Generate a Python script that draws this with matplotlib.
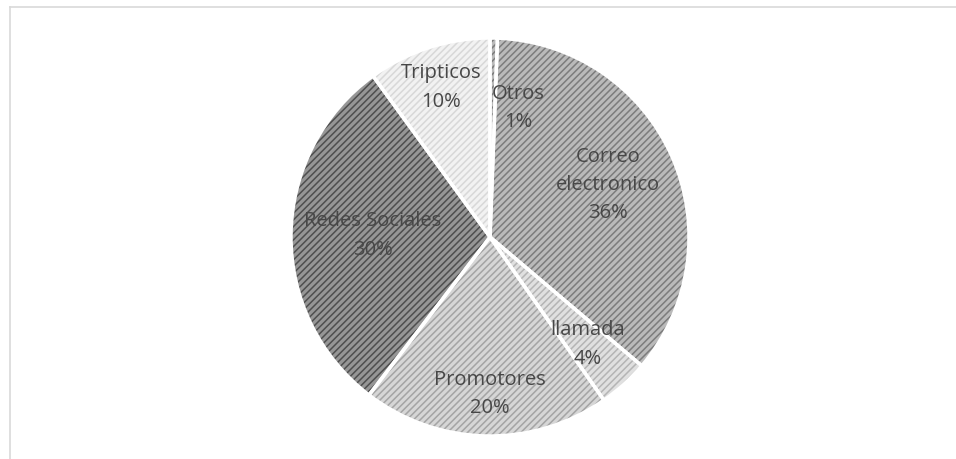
import matplotlib.pyplot as plt
from matplotlib.lines import Line2D
import numpy as np

labels = ["Otros", "Correo\nelectronico", "llamada", "Promotores", "Redes Sociales", "Tripticos"]
values = [0.6, 35.6, 4.1, 20.1, 29.6, 10.0]
pct_labels = ["1%", "36%", "4%", "20%", "30%", "10%"]

face_colors = ["#bababa", "#bababa", "#e0e0e0", "#d6d6d6", "#969696", "#f2f2f2"]
hatch_colors = ["#7c7c7c", "#7c7c7c", "#b4b4b4", "#a4a4a4", "#4e4e4e", "#d8d8d8"]
label_radius = [0.66, 0.65, 0.73, 0.79, 0.59, 0.79]
label_shift = [(0.128, -0.012), (0, 0), (0, 0), (0.017, 0), (0, 0), (0, 0)]

plt.rcParams['hatch.linewidth'] = 1.1

fig = plt.figure(figsize=(9.56, 4.59), dpi=100)
R = 199
cx, cy = 490, 459 - 237
ax = fig.add_axes([(cx - R) / 956, (cy - R) / 459, 2 * R / 956, 2 * R / 459])

wedges, _ = ax.pie(values, startangle=90, counterclock=False, colors=face_colors,
                   wedgeprops=dict(linewidth=0))
hatched, _ = ax.pie(values, startangle=90, counterclock=False,
                    wedgeprops=dict(facecolor="none", linewidth=0))
for w, hc in zip(hatched, hatch_colors):
    w.set_edgecolor(hc)
    w.set_hatch("/////")
edges, _ = ax.pie(values, startangle=90, counterclock=False,
                  wedgeprops=dict(facecolor="none", edgecolor="white", linewidth=2.5))

for w, lab, pct, r, sh in zip(wedges, labels, pct_labels, label_radius, label_shift):
    ang = np.deg2rad((w.theta1 + w.theta2) / 2)
    x = r * np.cos(ang) + sh[0]
    y = r * np.sin(ang) + sh[1]
    ax.text(x, y, lab + "\n" + pct, ha="center", va="center", fontsize=14.5,
            color="#474747", family="Open Sans", linespacing=1.55)

ax.set_xlim(-1, 1)
ax.set_ylim(-1, 1)
ax.axis("off")

# light frame (top and left edges visible)
fig.add_artist(Line2D([10 / 956, 1], [1 - 7 / 459, 1 - 7 / 459], color="#d9d9d9", lw=1.2))
fig.add_artist(Line2D([10 / 956, 10 / 956], [0, 1 - 7 / 459], color="#d9d9d9", lw=1.2))

fig.savefig("out.png", dpi=100, facecolor="white")
